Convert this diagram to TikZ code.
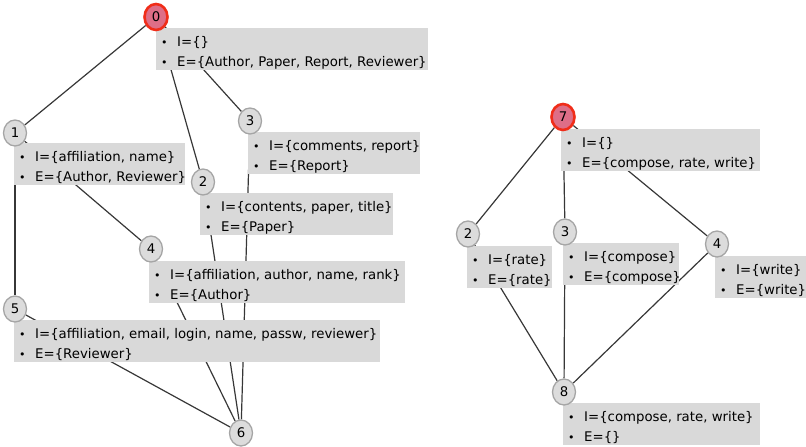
\documentclass[tikz,border=0pt]{standalone}
\usepackage{fontspec}
\usetikzlibrary{shapes.geometric}
\setmainfont{DejaVu Sans}
\definecolor{edgec}{RGB}{55,55,55}
\definecolor{boxfill}{RGB}{217,217,217}
\definecolor{nodefill}{RGB}{220,220,220}
\definecolor{nodeline}{RGB}{165,165,165}
\definecolor{rootfill}{RGB}{222,110,135}
\definecolor{rootline}{RGB}{240,45,25}
\pgfdeclarelayer{edges}
\pgfdeclarelayer{boxes}
\pgfsetlayers{edges,boxes,main}
% bullet followed by the indent of the list text
\newcommand\itm{\makebox[21pt][l]{\hspace{5pt}{\fontsize{11}{11}\selectfont •}}}
% grey box with its two list lines: name, x, y, width, I-set, E-set
\newcommand\infobox[6]{%
  \node[ibox,minimum width=#4] (#1) at (#2,#3) {};
  \node[iline] (#1i) at ([yshift=-18pt]#1.north west) {\itm I=\{#5\}};
  \node[iline] (#1e) at ([yshift=-38pt]#1.north west) {\itm E=\{#6\}};
}
\begin{document}
\begin{tikzpicture}[x=1pt,y=-1pt,
  every node/.style={font=\fontsize{13.3}{20}\selectfont},
  vert/.style={ellipse,draw=nodeline,line width=1.3pt,fill=nodefill,
    minimum width=23pt,minimum height=26pt,inner sep=0pt},
  root/.style={vert,draw=rootline,line width=2.6pt,fill=rootfill},
  ibox/.style={fill=boxfill,anchor=north west,inner sep=0pt,minimum height=42pt},
  iline/.style={anchor=base west,inner sep=0pt},
  link/.style={draw=edgec,line width=1.2pt}]
\useasboundingbox (0,0) rectangle (806,447);

% vertices of the left lattice
\node[root] (a0) at (156,17) {0};
\node[vert] (a1) at (15,133) {1};
\node[vert] (a2) at (203,182) {2};
\node[vert] (a3) at (250,121) {3};
\node[vert] (a4) at (151,249) {4};
\node[vert] (a5) at (15,309) {5};
\node[vert] (a6) at (241,433) {6};

% vertices of the right lattice
\node[root] (b7) at (563,117) {7};
\node[vert] (b2) at (468,234) {2};
\node[vert] (b3) at (565,232) {3};
\node[vert] (b4) at (717,244) {4};
\node[vert] (b8) at (564,392) {8};

% information boxes
\begin{pgfonlayer}{boxes}
\infobox{t0}{156}{28}{272pt}{}{Author, Paper, Report, Reviewer}
\infobox{t1}{14}{143}{171pt}{affiliation, name}{Author, Reviewer}
\infobox{t2}{200}{193}{193pt}{contents, paper, title}{Paper}
\infobox{t3}{248}{132}{172pt}{comments, report}{Report}
\infobox{t4}{149}{261}{256pt}{affiliation, author, name, rank}{Author}
\infobox{t5}{14}{320}{366pt}{affiliation, email, login, name, passw, reviewer}{Reviewer}
\infobox{u7}{561}{129}{199pt}{}{compose, rate, write}
\infobox{u2}{467}{246}{85pt}{rate}{rate}
\infobox{u3}{563}{243}{116pt}{compose}{compose}
\infobox{u4}{715}{256}{91pt}{write}{write}
\infobox{u8}{563}{403}{197pt}{compose, rate, write}{}
\end{pgfonlayer}

% edges
\begin{pgfonlayer}{edges}
\path[link] (a0) -- (a1);
\path[link] (a0) -- (a2);
\path[link] (a0) -- (a3);
\path[link] (a1) -- (a4);
\path[link] (a1) -- (a5);
\path[link] (a2) -- (a6);
\path[link] (a3) -- (a6);
\path[link] (a4) -- (a6);
\path[link] (a5) -- (a6);
\path[link] (b7) -- (b2);
\path[link] (b7) -- (b3);
\path[link] (b7) -- (b4);
\path[link] (b2) -- (b8);
\path[link] (b3) -- (b8);
\path[link] (b4) -- (b8);
\end{pgfonlayer}
\end{tikzpicture}
\end{document}
